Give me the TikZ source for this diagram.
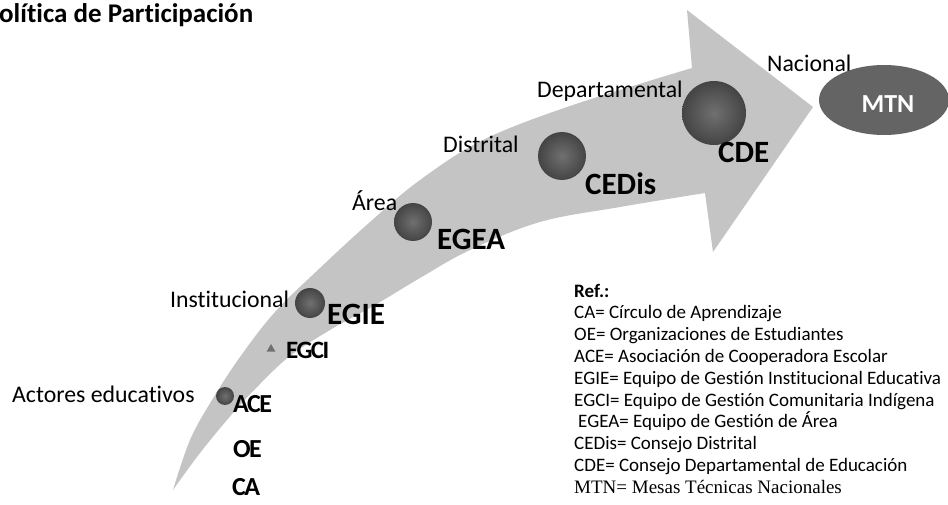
\documentclass[tikz,border=0pt]{standalone}
\usepackage{fontspec}
\setmainfont{Carlito}[Ligatures={NoCommon}]
\newfontfamily\condfont[LetterSpace=-6,Ligatures={NoCommon}]{Carlito}
\newfontfamily\timesfont{Liberation Serif}
\usetikzlibrary{shapes.geometric}
\definecolor{bandgray}{RGB}{196,196,196}
\definecolor{ballin}{RGB}{112,112,112}
\definecolor{ballout}{RGB}{68,68,68}
\definecolor{ovalgray}{RGB}{100,100,100}
\tikzset{
  lvl/.style={anchor=base west, inner sep=0pt, font=\fontsize{23.8}{26}\selectfont},
  acro/.style={anchor=base west, inner sep=0pt, font=\bfseries\fontsize{31}{33}\selectfont},
  acrosm/.style={anchor=base west, inner sep=0pt, font=\condfont\bfseries\fontsize{26}{28}\selectfont},
  ball/.style={circle, inner sep=0pt, shading=radial, inner color=ballin, outer color=ballout},
  legend/.style={anchor=base west, inner sep=0pt, font=\fontsize{19}{21}\selectfont},
}
\begin{document}
\begin{tikzpicture}[x=1pt,y=-1pt]
\useasboundingbox (0,0) rectangle (948,505);
% curved arrow band
\fill[bandgray]
  plot[smooth, tension=0.6] coordinates {(173,490) (190,440) (212,400) (240,357) (275,312) (320,268) (370,222) (420,180) (483,140) (570,106) (692,68)}
  -- (687,10) -- (813,107) -- (713,252) -- (705,193)
  -- plot[smooth, tension=0.6] coordinates {(705,193) (620,207) (540,222) (470,250) (420,278) (375,305) (330,330) (290,356) (260,384) (233,413) (200,453) (173,490)}
  -- cycle;
% title
\node[anchor=base west, inner sep=0pt, font=\bfseries\fontsize{27}{29}\selectfont] (title) at (-1,23) {olítica de Participación};
% level labels
\node[lvl] (actores) at (12,402) {Actores educativos};
\node[lvl] (inst) at (170,307) {Institucional};
\node[lvl] (area) at (352,211) {Área};
\node[lvl] (dist) at (443,153) {Distrital};
\node[lvl] (dep) at (537,98) {Departamental};
\node[lvl] (nac) at (767,72) {Nacional};
% balls
\node[ball, minimum size=18pt] (b1) at (225,396) {};
\node[regular polygon, regular polygon sides=3, fill=ballin, inner sep=0pt, minimum size=10pt] (tri) at (271,349) {};
\node[ball, minimum size=30pt] (b2) at (310,303) {};
\node[ball, minimum size=38pt] (b3) at (413,222) {};
\node[ball, minimum size=48pt] (b4) at (562,156) {};
\node[ball, minimum size=64pt] (b5) at (714,113) {};
% MTN oval
\node[ellipse, fill=ovalgray, minimum width=130pt, minimum height=70pt, inner sep=0pt] (mtn) at (884,100) {};
\node[font=\bfseries\fontsize{26}{28}\selectfont, text=white, inner sep=0pt] (mtnt) at (888,104) {MTN};
% acronyms
\node[acrosm] (ace) at (233,412) {ACE};
\node[acrosm] (oe) at (233,457) {OE};
\node[acrosm] (ca) at (232,495) {CA};
\node[acrosm, font=\condfont\bfseries\fontsize{25}{27}\selectfont] (egci) at (286,358) {EGCI};
\node[acro] (egie) at (327,324) {EGIE};
\node[acro] (egea) at (437,250) {EGEA};
\node[acro] (cedis) at (585,195) {CEDis};
\node[acro] (cde) at (718,163) {CDE};
% legend
\node[legend, font=\bfseries\fontsize{19}{21}\selectfont] (ref) at (574,297) {Ref.:};
\node[legend] (l1) at (574,318.8) {CA= Círculo de Aprendizaje};
\node[legend] (l2) at (574,340.6) {OE= Organizaciones de Estudiantes};
\node[legend] (l3) at (574,362.4) {ACE= Asociación de Cooperadora Escolar};
\node[legend] (l4) at (574,384.2) {EGIE= Equipo de Gestión Institucional Educativa};
\node[legend] (l5) at (574,406) {EGCI= Equipo de Gestión Comunitaria Indígena};
\node[legend] (l6) at (578,427.8) {EGEA= Equipo de Gestión de Área};
\node[legend] (l7) at (574,449.6) {CEDis= Consejo Distrital};
\node[legend] (l8) at (574,471.4) {CDE= Consejo Departamental de Educación};
\node[legend, font=\timesfont\fontsize{19}{21}\selectfont] (l9) at (574,493.2) {MTN= Mesas Técnicas Nacionales};
\end{tikzpicture}
\end{document}
